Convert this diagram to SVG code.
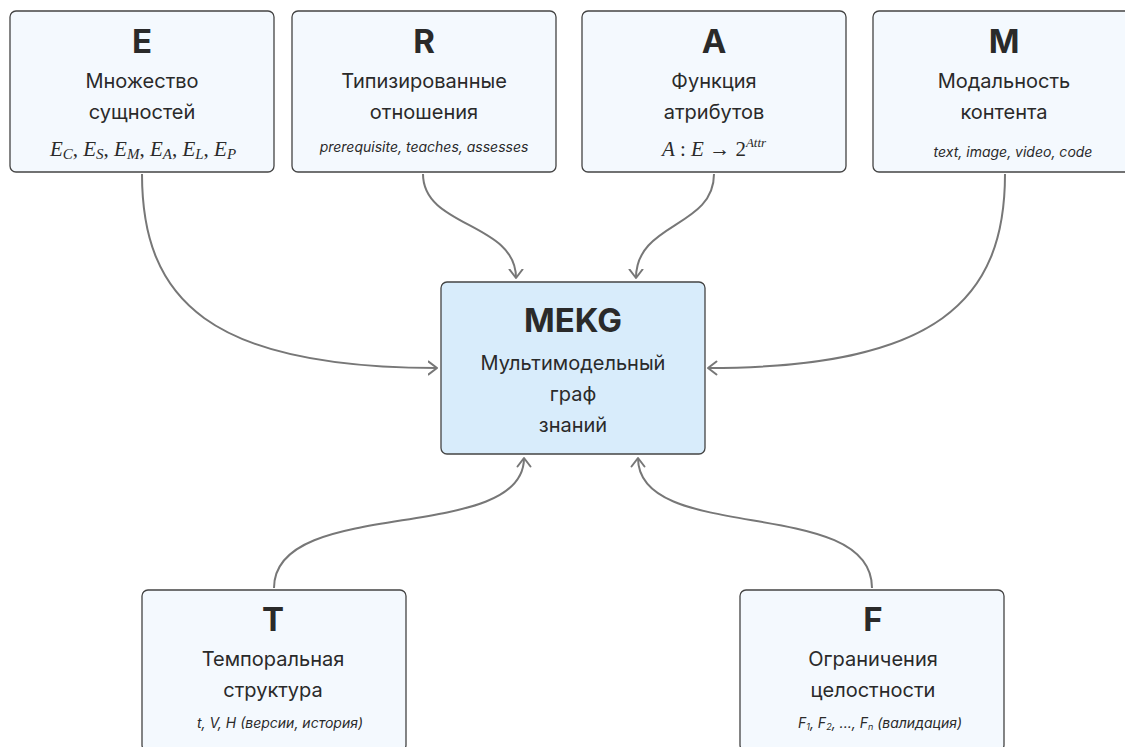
<svg xmlns="http://www.w3.org/2000/svg" width="1125" height="747" viewBox="0 0 1125 747">
<style>
  .box { fill: #f4f9fe; stroke: #444; stroke-width: 1.3; }
  .main { fill: #d8ecfb; stroke: #444; stroke-width: 1.3; }
  .title { font-family: Inter, "Liberation Sans", sans-serif; font-weight: 700; font-size: 33px; fill: #2a2a2a; text-anchor: middle; }
  .sub { font-family: Inter, "Liberation Sans", sans-serif; font-size: 20px; fill: #2a2a2a; text-anchor: middle; }
  .it { font-family: Inter, "Liberation Sans", sans-serif; font-style: italic; font-size: 14px; fill: #2a2a2a; text-anchor: middle; }
  .math { font-family: "Liberation Serif", "DejaVu Serif", serif; font-size: 21px; fill: #2a2a2a; text-anchor: middle; }
  .conn { fill: none; stroke: #777; stroke-width: 2; marker-end: url(#arr); }
</style>
<defs>
  <marker id="arr" markerUnits="userSpaceOnUse" markerWidth="14" markerHeight="16" viewBox="0 0 14 16" refX="9.5" refY="8" orient="auto">
    <path d="M1,1.5 L9.5,8 L1,14.5" fill="none" stroke="#777" stroke-width="2" stroke-linecap="round" stroke-linejoin="round"/>
  </marker>
</defs>
<rect width="1125" height="747" fill="#ffffff"/>

<g id="connectors">
  <path class="conn" d="M142,174 C142,300 210,368 437,368"/>
  <path class="conn" d="M1005,174 C1005,300 937,368 708,368"/>
  <path class="conn" d="M423,174 C423,228 516,222 516,278"/>
  <path class="conn" d="M714,174 C714,228 636,222 636,278"/>
  <path class="conn" d="M274,588 C274,495 524,545 524,458"/>
  <path class="conn" d="M872,588 C872,495 638,545 638,458"/>
</g>

<g id="node-E">
  <rect class="box" x="10" y="11" width="264" height="161" rx="6"/>
  <text class="title" x="142" y="53">E</text>
  <text class="sub" x="142" y="88">Множество</text>
  <text class="sub" x="142" y="119">сущностей</text>
  <text class="math" x="143" y="156"><tspan font-style="italic">E</tspan><tspan font-size="15" font-style="italic" dy="3">C</tspan><tspan dy="-3">,  </tspan><tspan font-style="italic">E</tspan><tspan font-size="15" font-style="italic" dy="3">S</tspan><tspan dy="-3">,  </tspan><tspan font-style="italic">E</tspan><tspan font-size="15" font-style="italic" dy="3">M</tspan><tspan dy="-3">,  </tspan><tspan font-style="italic">E</tspan><tspan font-size="15" font-style="italic" dy="3">A</tspan><tspan dy="-3">,  </tspan><tspan font-style="italic">E</tspan><tspan font-size="15" font-style="italic" dy="3">L</tspan><tspan dy="-3">,  </tspan><tspan font-style="italic">E</tspan><tspan font-size="15" font-style="italic" dy="3">P</tspan></text>
</g>

<g id="node-R">
  <rect class="box" x="292" y="11" width="264" height="161" rx="6"/>
  <text class="title" x="424" y="53">R</text>
  <text class="sub" x="424" y="88">Типизированные</text>
  <text class="sub" x="424" y="119">отношения</text>
  <text class="it" x="424" y="152">prerequisite, teaches, assesses</text>
</g>

<g id="node-A">
  <rect class="box" x="582" y="11" width="264" height="161" rx="6"/>
  <text class="title" x="714" y="53">A</text>
  <text class="sub" x="714" y="88">Функция</text>
  <text class="sub" x="714" y="119">атрибутов</text>
  <text class="math" x="714" y="156"><tspan font-style="italic">A</tspan> : <tspan font-style="italic">E</tspan> → 2<tspan font-size="13" font-style="italic" dy="-9">Attr</tspan></text>
</g>

<g id="node-M">
  <rect class="box" x="873" y="11" width="264" height="161" rx="6"/>
  <text class="title" x="1004" y="53">M</text>
  <text class="sub" x="1004" y="88">Модальность</text>
  <text class="sub" x="1004" y="119">контента</text>
  <text class="it" x="1013" y="157">text, image, video, code</text>
</g>

<g id="node-MEKG">
  <rect class="main" x="441" y="282" width="264" height="172" rx="6"/>
  <text class="title" x="573" y="332">MEKG</text>
  <text class="sub" x="573" y="370">Мультимодельный</text>
  <text class="sub" x="573" y="401">граф</text>
  <text class="sub" x="573" y="432">знаний</text>
</g>

<g id="node-T">
  <rect class="box" x="142" y="590" width="264" height="161" rx="6"/>
  <text class="title" x="273" y="631">T</text>
  <text class="sub" x="273" y="666">Темпоральная</text>
  <text class="sub" x="273" y="697">структура</text>
  <text class="it" x="280" y="728">t, V, H (версии, история)</text>
</g>

<g id="node-F">
  <rect class="box" x="740" y="590" width="264" height="161" rx="6"/>
  <text class="title" x="873" y="631">F</text>
  <text class="sub" x="873" y="666">Ограничения</text>
  <text class="sub" x="873" y="697">целостности</text>
  <text class="it" x="880" y="728">F<tspan font-size="9" dy="2">1</tspan><tspan dy="-2">, F</tspan><tspan font-size="9" dy="2">2</tspan><tspan dy="-2">, ..., F</tspan><tspan font-size="9" dy="2">n</tspan><tspan dy="-2"> (валидация)</tspan></text>
</g>
</svg>
